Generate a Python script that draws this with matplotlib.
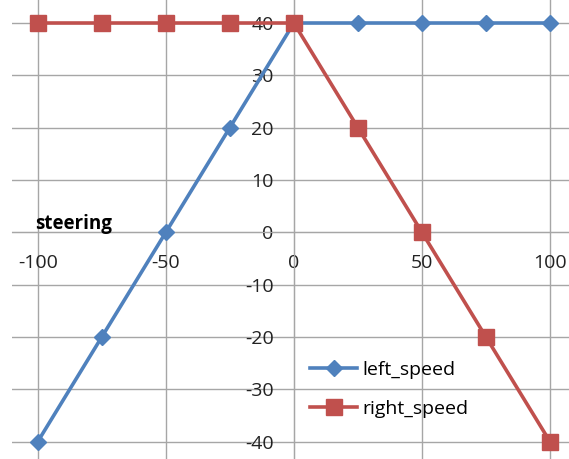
import matplotlib
matplotlib.use("Agg")
import matplotlib.pyplot as plt

steering = [-100, -75, -50, -25, 0, 25, 50, 75, 100]
left_speed = [-40, -20, 0, 20, 40, 40, 40, 40, 40]
right_speed = [40, 40, 40, 40, 40, 20, 0, -20, -40]
xticks = [-100, -50, 0, 50, 100]
yticks = [-40, -30, -20, -10, 0, 10, 20, 30, 40]

plt.rcParams['font.family'] = ['Open Sans', 'DejaVu Sans']

W, H = 569, 459
fig = plt.figure(figsize=(W / 100, H / 100), dpi=100)

# pixel geometry
px_per_x = 2.5617
px_per_y = 5.234
x_left_px = 37.7 - 10 * px_per_x      # x = -110
y_top_px = 23.0 - 10 * px_per_y       # y = 50
ax_w = 220 * px_per_x
ax_h = 100 * px_per_y
ax = fig.add_axes([x_left_px / W, (H - (y_top_px + ax_h)) / H, ax_w / W, ax_h / H])
ax.set_xlim(-110, 110)
ax.set_ylim(-50, 50)

grid_c = '#A6A6A6'
ax.set_xticks(xticks)
ax.set_yticks(yticks)
ax.grid(True, color=grid_c, linewidth=1.0)
ax.set_axisbelow(True)

for s in ['top', 'right']:
    ax.spines[s].set_visible(False)
ax.spines['left'].set_position(('data', 0))
ax.spines['bottom'].set_position(('data', 0))
ax.spines['left'].set_color(grid_c)
ax.spines['bottom'].set_color(grid_c)
ax.spines['left'].set_bounds(-50, 50)
ax.spines['bottom'].set_bounds(-110, 110)

ax.tick_params(axis='both', length=0, labelsize=14, colors='#222222')
ax.tick_params(axis='y', pad=14.5)
ax.tick_params(axis='x', pad=15.5)
ax.set_xticklabels([str(t) for t in xticks])
ax.set_yticklabels([str(t) for t in yticks])

ax.plot(steering, left_speed, color='#4F81BD', linewidth=2.6, marker='D',
        markersize=8.5, label='left_speed', clip_on=False, zorder=3)
ax.plot(steering, right_speed, color='#C0504D', linewidth=2.6, marker='s',
        markersize=11, label='right_speed', clip_on=False, zorder=4)

fig.text(35 / W, 1 - 224 / H, 'steering', fontsize=13.5, fontweight='bold',
         va='center', ha='left', color='black')

leg = ax.legend(loc='center left', bbox_to_anchor=(293 / W, 1 - 389.5 / H),
                bbox_transform=fig.transFigure, frameon=False, fontsize=14,
                handlelength=2.4, handletextpad=0.25, labelspacing=1.1)

fig.savefig('out.png', dpi=100)
